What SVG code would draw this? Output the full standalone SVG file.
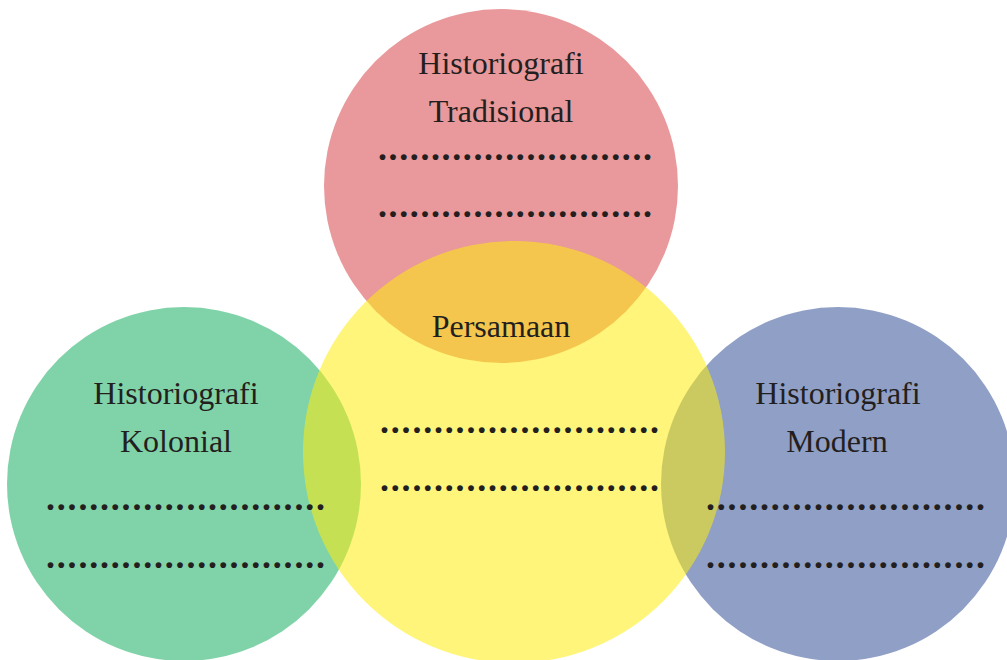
<svg xmlns="http://www.w3.org/2000/svg" width="1007" height="660" viewBox="0 0 1007 660">
<style>
.c{fill-opacity:0.55}
.t{font-family:"Liberation Serif","DejaVu Serif",serif;font-size:32px;fill:#231F20;text-anchor:middle}
.d{font-family:"Liberation Serif","DejaVu Serif",serif;font-size:36px;font-weight:bold;fill:#231F20}
</style>
<rect width="1007" height="660" fill="#ffffff"/>
<g id="tradisional">
<circle class="c" cx="501" cy="186" r="177" fill="#D74448"/>
</g>
<g id="kolonial">
<circle class="c" cx="184" cy="484" r="177" fill="#18AF61"/>
</g>
<g id="modern">
<circle class="c" cx="838" cy="484" r="177" fill="#335097"/>
</g>
<g id="persamaan">
<circle class="c" cx="514" cy="452" r="211" fill="#FDED0D"/>
</g>
<g id="connectors"></g>
<g id="labels">
<text class="t" x="501" y="74">Historiografi</text>
<text class="t" x="501" y="122">Tradisional</text>
<text class="d" x="378" y="160" textLength="274" lengthAdjust="spacing">..........................</text>
<text class="d" x="378" y="217" textLength="274" lengthAdjust="spacing">..........................</text>
<text class="t" x="501" y="337">Persamaan</text>
<text class="d" x="380" y="433" textLength="279" lengthAdjust="spacing">..........................</text>
<text class="d" x="380" y="491" textLength="279" lengthAdjust="spacing">..........................</text>
<text class="t" x="176" y="404">Historiografi</text>
<text class="t" x="176" y="452">Kolonial</text>
<text class="d" x="46" y="510" textLength="279" lengthAdjust="spacing">..........................</text>
<text class="d" x="46" y="568" textLength="279" lengthAdjust="spacing">..........................</text>
<text class="t" x="838" y="404">Historiografi</text>
<text class="t" x="837" y="452">Modern</text>
<text class="d" x="706" y="510" textLength="279" lengthAdjust="spacing">..........................</text>
<text class="d" x="706" y="568" textLength="279" lengthAdjust="spacing">..........................</text>
</g>
</svg>
